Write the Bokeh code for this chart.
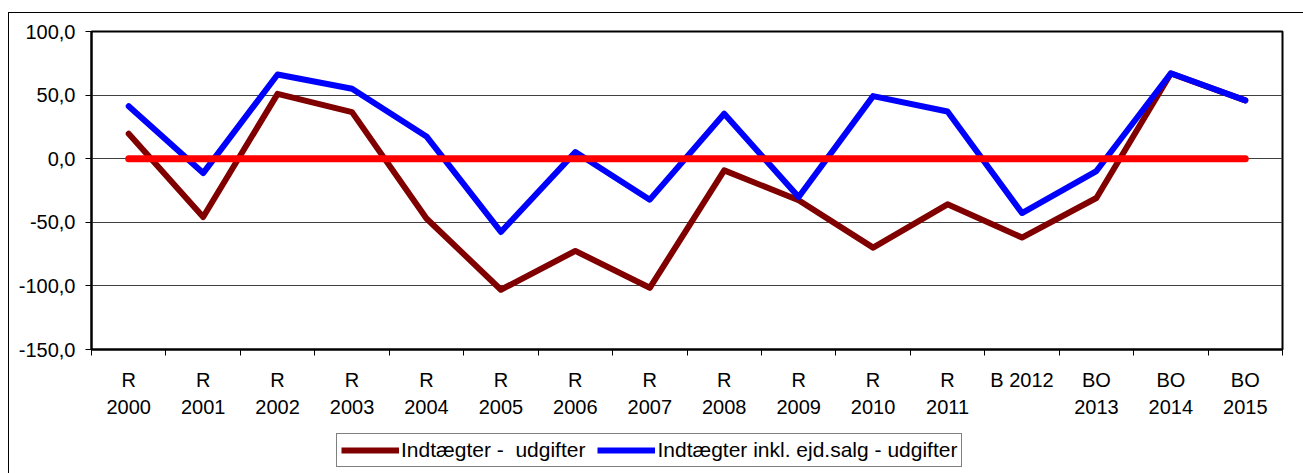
from bokeh.plotting import figure
from bokeh.models import (Range1d, FixedTicker, LinearAxis, Legend, LegendItem,
                          ColumnDataSource, Spacer)
from bokeh.layouts import column, row
from bokeh.embed import file_html
from bokeh.resources import INLINE

# ---- data ----
label_top = ["R", "R", "R", "R", "R", "R", "R", "R", "R", "R", "R", "R",
             "B 2012", "BO", "BO", "BO"]
label_bottom = ["2000", "2001", "2002", "2003", "2004", "2005", "2006", "2007",
                "2008", "2009", "2010", "2011", "", "2013", "2014", "2015"]
indt_udg = [19.6, -45.8, 51.0, 36.6, -47.0, -103.0, -72.5, -101.5,
            -9.2, -32.7, -69.9, -35.9, -62.0, -30.9, 67.0, 45.8]
indt_ejd_udg = [41.3, -11.3, 66.2, 55.0, 17.5, -57.6, 5.2, -32.2,
                35.3, -30.1, 49.2, 37.1, -42.7, -9.7, 67.2, 45.8]
zero_line = [0.0] * 16
y_ticks = [-150, -100, -50, 0, 50, 100]
series_names = ["Indtægter -  udgifter", "Indtægter inkl. ejd.salg - udgifter"]
series_colors = ["#800000", "#0000FF"]

n = len(label_top)
idx = list(range(n))
bounds = [i - 0.5 for i in range(n + 1)]
FONT = "Liberation Sans"

src = ColumnDataSource(dict(x=idx, a=indt_udg, b=indt_ejd_udg, z=zero_line))

p = figure(width=1294, height=419, output_backend="svg", toolbar_location=None,
           x_range=Range1d(-0.5, n - 0.5), y_range=Range1d(y_ticks[0], y_ticks[-1]),
           min_border_left=82, min_border_top=18, min_border_right=21,
           min_border_bottom=83)
p.background_fill_color = "white"
p.border_fill_color = "white"
p.outline_line_color = "black"
p.outline_line_width = 2

# lines
p.line("x", "a", source=src, line_color=series_colors[0], line_width=6,
       line_cap="round", line_join="round")
p.line("x", "b", source=src, line_color=series_colors[1], line_width=6,
       line_cap="round", line_join="round")
p.line("x", "z", source=src, line_color="#FF0000", line_width=7,
       line_cap="round", line_join="round")

# y axis
p.yaxis.ticker = FixedTicker(ticks=y_ticks)
p.yaxis.major_label_overrides = {t: f"{t:.1f}".replace(".", ",") for t in y_ticks}
p.yaxis.major_label_text_font = FONT
p.yaxis.major_label_text_font_size = "20px"
p.yaxis.major_label_text_color = "black"
p.yaxis.major_tick_out = 6
p.yaxis.major_tick_in = 0
p.yaxis.major_tick_line_color = "black"
p.yaxis.minor_tick_line_color = None
p.yaxis.major_label_standoff = 10
p.yaxis.axis_line_color = "black"
p.yaxis.axis_line_width = 2

p.ygrid.ticker = FixedTicker(ticks=y_ticks)
p.ygrid.grid_line_color = "#404040"
p.ygrid.grid_line_width = 1
p.xgrid.grid_line_color = None

# x axis line 1
ax1 = p.xaxis[0]
ax1.ticker = FixedTicker(ticks=idx, minor_ticks=bounds)
ax1.major_label_overrides = {i: label_top[i] for i in idx}
ax1.major_tick_line_color = None
ax1.major_tick_out = 0
ax1.major_tick_in = 0
ax1.minor_tick_line_color = "black"
ax1.minor_tick_out = 6
ax1.minor_tick_in = 0
ax1.major_label_standoff = 13
ax1.major_label_text_font = FONT
ax1.major_label_text_font_size = "20px"
ax1.major_label_text_color = "black"
ax1.axis_line_color = "black"
ax1.axis_line_width = 2

# x axis line 2
ax2 = LinearAxis(ticker=FixedTicker(ticks=idx))
ax2.major_label_overrides = {i: label_bottom[i] for i in idx}
ax2.axis_line_color = None
ax2.major_tick_line_color = None
ax2.minor_tick_line_color = None
ax2.major_tick_out = 0
ax2.major_tick_in = 0
ax2.major_label_standoff = 6
ax2.major_label_text_font = FONT
ax2.major_label_text_font_size = "20px"
ax2.major_label_text_color = "black"
p.add_layout(ax2, "below")

# legend strip (separate figure below the chart); its lines sit outside its view
lf = figure(width=1294, height=41, output_backend="svg", toolbar_location=None,
            x_range=Range1d(-30, -29), y_range=Range1d(-30, -29),
            x_axis_location=None, y_axis_location=None, min_border=0)
lf.outline_line_color = None
lf.xgrid.grid_line_color = None
lf.ygrid.grid_line_color = None
lr = [lf.line("x", col, source=src, line_color=c, line_width=6, line_cap="butt")
      for col, c in zip(["a", "b"], series_colors)]
legend = Legend(items=[LegendItem(label=series_names[i], renderers=[lr[i]])
                       for i in range(2)],
                orientation="horizontal", location=(245, 6), margin=0,
                padding=4, spacing=12, label_standoff=2, glyph_width=58,
                glyph_height=22, label_text_font=FONT,
                label_text_font_size="21px", label_text_color="black",
                border_line_color="black", border_line_width=1,
                background_fill_color="white")
lf.add_layout(legend, "center")

top_line = Spacer(width=1295, height=1, styles={"background-color": "black"})
left_line = Spacer(width=1, height=460, styles={"background-color": "black"})
layout = column(
    Spacer(width=1303, height=12),
    row(Spacer(width=8, height=461),
        column(top_line, row(left_line, column(p, lf)))),
)
open("out.html", "w").write(file_html(layout, INLINE))
